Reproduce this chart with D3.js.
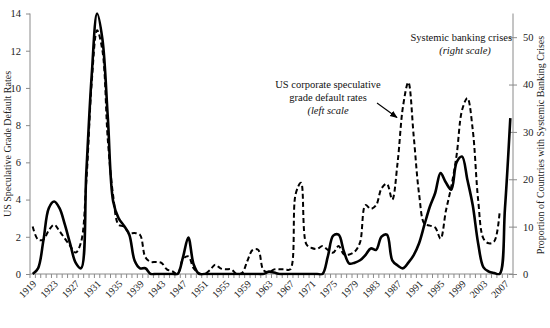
<!DOCTYPE html>
<html><head><meta charset="utf-8">
<script src="https://cdn.jsdelivr.net/npm/d3@7"></script>
<style>body{margin:0;background:#fff}</style>
</head><body>
<svg id="c" width="550" height="328"></svg>
<script>
// ---- data ----
const years = d3.range(1919, 2009); // 1919..2008
// Proportion of countries with systemic banking crises (right scale, %), 1919-2008
const bankingCrises = [
  0, 1.2, 7.1, 13.9, 15.3, 13.9, 10.4, 6.3, 2.4, 1.2,      // 1919-1928
  21.6, 42.0, 55.0, 49.5, 33.0, 15.3, 11.8, 10.2, 8.3, 2.8, // 1929-1938
  1.2, 1.2, 0, 0, 0, 0, 0, 0, 3.5, 7.7,                   // 1939-1948
  2.0, 0, 0, 0, 0, 0, 0, 0, 0, 0,                         // 1949-1958
  0, 0, 0, 0, 0.5, 0.3, 0, 0, 0, 0,                       // 1959-1968
  0, 0, 0, 0, 0, 3.7, 8.1, 8.3, 4.7, 2.2,                 // 1969-1978
  2.4, 2.9, 4.0, 5.4, 5.1, 7.9, 8.3, 2.9, 1.8, 1.2,       // 1979-1988
  2.4, 4.0, 6.5, 10.4, 14.2, 17.1, 21.3, 19.3, 17.8, 23.6, // 1989-1998
  24.8, 19.9, 14.5, 6.5, 1.4, 0.5, 0.2, 0, 13.8, 32.9      // 1999-2008
];
// US corporate speculative grade default rates (left scale, %), 1919-2006
const defaultRates = [
  2.55, 1.85, 1.85, 2.35, 2.65, 2.3, 1.9, 1.5, 1.15, 1.7,   // 1919-1928
  5.0, 10.3, 13.1, 12.0, 7.2, 4.2, 2.65, 2.55, 2.2, 2.2,    // 1929-1938
  2.1, 0.9, 0.65, 0.65, 0.6, 0.25, 0.15, 0, 0.8, 0.95,      // 1939-1948
  0.3, 0.05, 0, 0.2, 0.5, 0.3, 0.25, 0.25, 0, 0.05,         // 1949-1958
  0.7, 1.3, 1.3, 0.2, 0.1, 0.25, 0.25, 0.25, 0.25, 4.3,     // 1959-1968
  4.9, 1.6, 1.4, 1.35, 1.5, 1.3, 1.15, 1.5, 1.05, 1.05,     // 1969-1978
  1.2, 1.7, 3.7, 3.5, 3.7, 4.6, 4.85, 4.0, 6.0, 9.0,        // 1979-1988
  10.3, 7.4, 4.3, 2.7, 2.6, 2.5, 1.9, 3.4, 4.7, 6.4,        // 1989-1998
  8.8, 9.45, 7.75, 4.0, 1.9, 1.65, 1.75, 3.3                // 1999-2006
];
const leftTicks = [0, 2, 4, 6, 8, 10, 12, 14];
const rightTicks = [0, 10, 20, 30, 40, 50];
const xLabelYears = d3.range(1919, 2008, 4);

// ---- layout ----
const svg = d3.select("#c");
const L = 30, R = 513, T = 13.5, B = 274;
const x = d3.scaleBand().domain(years).range([L, R]).padding(0);
const xc = d => x(d) + x.bandwidth() / 2;
const yL = d3.scaleLinear().domain([0, 14]).range([B, T]);
const yR = d3.scaleLinear().domain([0, 55]).range([B, T]);
const axisColor = "#8a8a8a";
const font = "'Liberation Serif','Times New Roman',serif";

svg.append("defs").append("clipPath").attr("id", "clip")
  .append("rect").attr("x", L).attr("y", 0).attr("width", R - L).attr("height", B + 1.5);

// left axis
const gL = svg.append("g").attr("transform", `translate(${L},0)`)
  .call(d3.axisLeft(yL).tickValues(leftTicks).tickSize(4).tickPadding(5).tickFormat(d3.format("d")));
gL.selectAll("path,line").attr("stroke", axisColor);
gL.selectAll("text").attr("font-family", font).attr("font-size", 10.5).attr("fill", "#222");
gL.select(".domain").attr("d", `M-0,${B}V${T}`);

// right axis
const gR = svg.append("g").attr("transform", `translate(${R},0)`)
  .call(d3.axisRight(yR).tickValues(rightTicks).tickSize(4).tickPadding(6).tickFormat(d3.format("d")));
gR.selectAll("path,line").attr("stroke", axisColor);
gR.selectAll(".tick line").attr("x1", -4).attr("x2", 4);
gR.selectAll("text").attr("font-family", font).attr("font-size", 10.5).attr("fill", "#222");
gR.select(".domain").attr("d", `M0,${B}V${T}`);

// x axis
const gX = svg.append("g");
gX.append("line").attr("x1", L).attr("x2", R).attr("y1", B).attr("y2", B)
  .attr("stroke", axisColor).attr("stroke-width", 1);
const bounds = years.map(d => x(d)).concat([R]);
gX.selectAll("line.tk").data(bounds).join("line").attr("class", "tk")
  .attr("x1", d => d).attr("x2", d => d).attr("y1", B).attr("y2", B + 4)
  .attr("stroke", axisColor).attr("stroke-width", 1);
gX.selectAll("text").data(xLabelYears).join("text")
  .attr("transform", d => `translate(${xc(d) + 2},${B + 8}) rotate(-45)`)
  .attr("text-anchor", "end").attr("dy", "0.35em")
  .attr("font-family", font).attr("font-size", 10).attr("fill", "#222")
  .text(d => d);

// axis titles
svg.append("text").attr("transform", `translate(11,144) rotate(-90)`)
  .attr("text-anchor", "middle").attr("font-family", font).attr("font-size", 10)
  .attr("fill", "#222").text("US Speculative Grade Default Rates");
svg.append("text").attr("transform", `translate(544,145) rotate(-90)`)
  .attr("text-anchor", "middle").attr("font-family", font).attr("font-size", 10)
  .attr("fill", "#222").text("Proportion of Countries with Systemic Banking Crises");

// lines
const plot = svg.append("g").attr("clip-path", "url(#clip)");
const lineL = d3.line().x((d, i) => xc(years[i])).y(d => yL(d)).curve(d3.curveCatmullRom.alpha(0.5));
const lineR = d3.line().x((d, i) => xc(years[i])).y(d => yR(d)).curve(d3.curveCatmullRom.alpha(0.5));
plot.append("path").attr("d", lineL(defaultRates)).attr("fill", "none")
  .attr("stroke", "#000").attr("stroke-width", 2).attr("stroke-dasharray", "5,3");
plot.append("path").attr("d", lineR(bankingCrises)).attr("fill", "none")
  .attr("stroke", "#000").attr("stroke-width", 2.6).attr("stroke-linejoin", "round");

// annotations
const ann = svg.append("g").attr("font-family", font).attr("font-size", 10.5).attr("fill", "#111");
ann.append("text").attr("x", 328).attr("y", 88).attr("text-anchor", "middle").text("US corporate speculative");
ann.append("text").attr("x", 328).attr("y", 101).attr("text-anchor", "middle").text("grade default rates");
ann.append("text").attr("x", 328).attr("y", 114).attr("text-anchor", "middle").attr("font-style", "italic").text("(left scale");
ann.append("text").attr("x", 512).attr("y", 41).attr("text-anchor", "end").text("Systemic banking crises");
ann.append("text").attr("x", 465).attr("y", 54).attr("text-anchor", "middle").attr("font-style", "italic").text("(right scale)");

svg.append("defs").append("marker").attr("id", "arr").attr("viewBox", "0 0 10 10")
  .attr("refX", 9).attr("refY", 5).attr("markerWidth", 7).attr("markerHeight", 7)
  .attr("orient", "auto").append("path").attr("d", "M0,1L10,5L0,9Z").attr("fill", "#000");
svg.append("line").attr("x1", 377).attr("y1", 103).attr("x2", 397).attr("y2", 117.5)
  .attr("stroke", "#000").attr("stroke-width", 1.1).attr("marker-end", "url(#arr)");
</script>
</body></html>
